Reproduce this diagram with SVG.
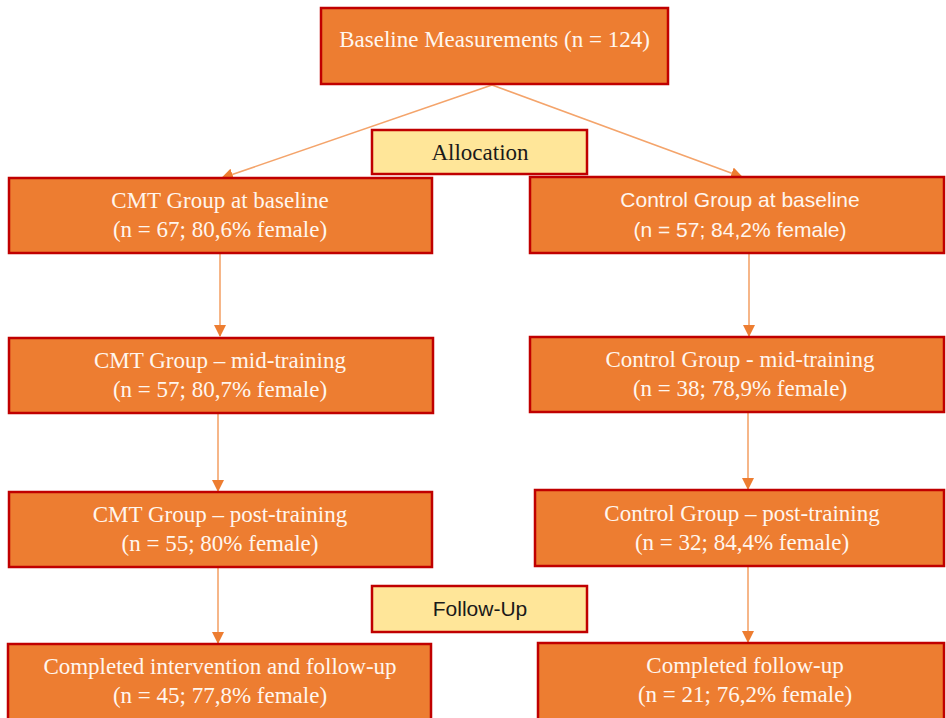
<svg xmlns="http://www.w3.org/2000/svg" width="946" height="718" viewBox="0 0 946 718">
<defs>
<marker id="ah" markerWidth="12" markerHeight="12" refX="11" refY="6" orient="auto" markerUnits="userSpaceOnUse">
<path d="M0,0 L12,6 L0,12 Z" fill="#ED7D31"/>
</marker>
</defs>
<style>
.box{fill:#ED7D31;stroke:#C00000;stroke-width:2.5}
.lab{fill:#FFE699;stroke:#C00000;stroke-width:2.5}
.s{font-family:"Liberation Serif","Times New Roman",serif;font-size:23px;fill:#FFF6EE;text-anchor:middle}
.ss{font-family:"Liberation Sans",Arial,sans-serif;font-size:21px;fill:#FFF6EE;text-anchor:middle}
.ls{font-family:"Liberation Serif","Times New Roman",serif;font-size:23px;fill:#1a1a1a;text-anchor:middle}
.lss{font-family:"Liberation Sans",Arial,sans-serif;font-size:21px;fill:#1a1a1a;text-anchor:middle}
.c{stroke:#F4A46B;stroke-width:1.6;fill:none;marker-end:url(#ah)}
</style>
<rect width="946" height="718" fill="#ffffff"/>
<g id="connectors">
<line class="c" x1="492" y1="85" x2="222" y2="178"/>
<line class="c" x1="492" y1="85" x2="742" y2="177"/>
<line class="c" x1="220" y1="254" x2="220" y2="336"/>
<line class="c" x1="749" y1="254" x2="749" y2="336"/>
<line class="c" x1="218" y1="413" x2="218" y2="491"/>
<line class="c" x1="748" y1="413" x2="748" y2="489"/>
<line class="c" x1="218" y1="567" x2="218" y2="643"/>
<line class="c" x1="748" y1="566" x2="748" y2="642"/>
</g>
<g id="baseline">
<rect class="box" x="321" y="8" width="347" height="76"/>
<text class="s" x="494.5" y="47">Baseline Measurements (n = 124)</text>
</g>
<g id="allocation">
<rect class="lab" x="372" y="130" width="215" height="44"/>
<text class="ls" x="480" y="160">Allocation</text>
</g>
<g id="cmt-baseline">
<rect class="box" x="9" y="178" width="423" height="75"/>
<text class="s" x="220" y="208">CMT Group at baseline</text>
<text class="s" x="220" y="237">(n = 67; 80,6% female)</text>
</g>
<g id="control-baseline">
<rect class="box" x="530" y="177" width="414" height="76"/>
<text class="ss" x="740" y="207">Control Group at baseline</text>
<text class="ss" x="740" y="237">(n = 57; 84,2% female)</text>
</g>
<g id="cmt-mid">
<rect class="box" x="9" y="338" width="424" height="75"/>
<text class="s" x="220" y="368">CMT Group – mid-training</text>
<text class="s" x="220" y="397">(n = 57; 80,7% female)</text>
</g>
<g id="control-mid">
<rect class="box" x="530" y="337" width="414" height="75"/>
<text class="s" x="740" y="367">Control Group - mid-training</text>
<text class="s" x="740" y="396">(n = 38; 78,9% female)</text>
</g>
<g id="cmt-post">
<rect class="box" x="9" y="492" width="423" height="75"/>
<text class="s" x="220" y="522">CMT Group – post-training</text>
<text class="s" x="220" y="551">(n = 55; 80% female)</text>
</g>
<g id="control-post">
<rect class="box" x="535" y="490" width="409" height="76"/>
<text class="s" x="742" y="521">Control Group – post-training</text>
<text class="s" x="742" y="550">(n = 32; 84,4% female)</text>
</g>
<g id="followup">
<rect class="lab" x="372" y="586" width="215" height="46"/>
<text class="lss" x="480" y="616">Follow-Up</text>
</g>
<g id="cmt-completed">
<rect class="box" x="8" y="644" width="423" height="80"/>
<text class="s" x="220" y="674">Completed intervention and follow-up</text>
<text class="s" x="220" y="703">(n = 45; 77,8% female)</text>
</g>
<g id="control-completed">
<rect class="box" x="538" y="643" width="406" height="80"/>
<text class="s" x="745" y="673">Completed follow-up</text>
<text class="s" x="745" y="702">(n = 21; 76,2% female)</text>
</g>
</svg>
